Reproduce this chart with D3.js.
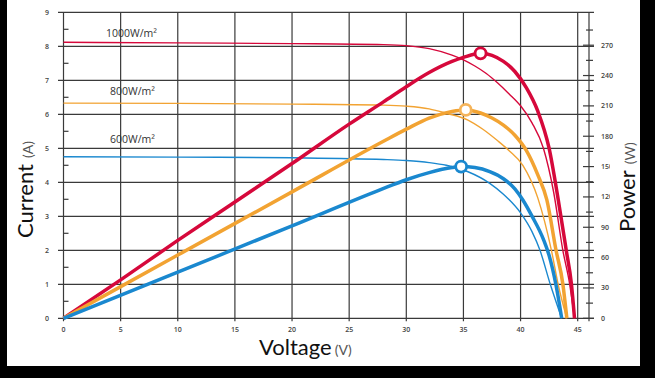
<!DOCTYPE html>
<html>
<head>
<meta charset="utf-8">
<script src="https://cdn.jsdelivr.net/npm/d3@7"></script>
<style>
  html, body { margin: 0; padding: 0; background: #000; }
  svg { display: block; }
</style>
</head>
<body>
<div id="chart"></div>
<script>
// Tick values
const voltTicks = [0, 5, 10, 15, 20, 25, 30, 35, 40, 45];
const currentTicks = [0, 1, 2, 3, 4, 5, 6, 7, 8, 9];
const powerTicks = [0, 30, 60, 90, 120, 150, 180, 210, 240, 270];

// Irradiance labels
const irradianceLabels = ["1000W/m²", "800W/m²", "600W/m²"];

// I-V curves [voltage, current]
const iv1000 = [[0, 8.12], [10, 8.1], [20, 8.08], [28, 8.05], [30, 8.02], [32, 7.93], [34, 7.74], [35, 7.6],
  [36, 7.42], [37, 7.2], [38, 6.92], [39, 6.6], [40, 6.25], [41, 5.75], [42, 5.0], [42.9, 3.7],
  [43.7, 2.0], [44.3, 1.0], [44.72, 0]];
const iv800 = [[0, 6.33], [10, 6.32], [20, 6.3], [28, 6.27], [30, 6.24], [32, 6.16], [33.5, 6.03], [35.4, 5.83],
  [36.7, 5.56], [38, 5.22], [39, 4.93], [40.2, 4.5], [41.5, 3.55], [42.7, 2.0], [43.3, 0.98], [44.05, 0]];
const iv600 = [[0, 4.75], [10, 4.74], [20, 4.72], [28, 4.67], [30, 4.64], [32, 4.58], [33.5, 4.5], [35.4, 4.31],
  [37.3, 3.97], [38.5, 3.65], [40, 3.1], [41, 2.55], [41.7, 2.0], [42.6, 1.0], [43.6, 0]];

// P-V curves [voltage, power]
const pv1000 = [[0, 0], [5, 38], [10, 77], [15, 115], [20, 153], [25, 192], [28, 214], [30, 229], [32, 243],
  [34, 254], [35, 258], [36.5, 262], [37.5, 260], [38.5, 254], [39.5, 244], [40.5, 228], [41.5, 205],
  [42.5, 168], [43.3, 117], [44, 67], [44.45, 34], [44.72, 0]];
const pv800 = [[0, 0], [10, 62.5], [20, 125], [28, 175], [30, 187], [32, 198], [34, 204.5], [35.2, 206],
  [36.5, 203], [37.5, 198], [38.5, 191], [39.5, 181], [40.5, 166], [41.5, 142], [42.3, 117], [43.1, 67.5],
  [43.7, 34], [44.05, 0]];
const pv600 = [[0, 0], [10, 45.7], [20, 91.4], [27.7, 127], [30, 137], [32, 144], [34, 149], [34.8, 150],
  [36, 149], [37.3, 145], [38.5, 138], [39.5, 128], [40.2, 117], [41, 101], [42, 78], [42.5, 62],
  [43.1, 33], [43.6, 0]];

// Maximum power points [voltage, power]
const mpp = [[36.5, 262], [35.2, 206], [34.8, 150]];

const colors = ["#d6083b", "#f2a332", "#1a88cf"];

const width = 655, height = 378;

const svg = d3.select("#chart").append("svg")
  .attr("width", width)
  .attr("height", height);

// white panel on black background
svg.append("rect").attr("x", 7).attr("y", 0).attr("width", 633).attr("height", 366).attr("fill", "#fff");

// Scales
const x = d3.scaleLinear().domain([0, 45]).range([63.5, 577.7]);
const yI = d3.scaleLinear().domain([0, 9]).range([318.3, 12.3]);
const yP = d3.scaleLinear().domain([0, 270]).range([318.3, 45.2]);

const gridColor = "#3a3a3a";
const tickFont = "'Open Sans', sans-serif";

// Horizontal grid lines
svg.append("g").selectAll("line")
  .data(currentTicks)
  .join("line")
  .attr("x1", 58).attr("x2", 594)
  .attr("y1", d => yI(d)).attr("y2", d => yI(d))
  .attr("stroke", gridColor).attr("stroke-width", 1.2);

// Vertical grid lines
svg.append("g").selectAll("line")
  .data(voltTicks)
  .join("line")
  .attr("x1", d => x(d)).attr("x2", d => x(d))
  .attr("y1", yI(9)).attr("y2", yI(0) + 3)
  .attr("stroke", gridColor).attr("stroke-width", 1.2);

// Right power axis line
svg.append("line")
  .attr("x1", 589).attr("x2", 589)
  .attr("y1", yI(9)).attr("y2", yI(0) + 3)
  .attr("stroke", gridColor).attr("stroke-width", 1.2);

// Left minor ticks (half amps)
svg.append("g").selectAll("line")
  .data(currentTicks.slice(0, -1))
  .join("line")
  .attr("x1", x(0)).attr("x2", x(0) + 5)
  .attr("y1", d => yI(d + 0.5)).attr("y2", d => yI(d + 0.5))
  .attr("stroke", gridColor).attr("stroke-width", 1.2);

// Right ticks, major and minor
svg.append("g").selectAll("line")
  .data(powerTicks)
  .join("line")
  .attr("x1", 583).attr("x2", 594)
  .attr("y1", d => yP(d)).attr("y2", d => yP(d))
  .attr("stroke", gridColor).attr("stroke-width", 1.2);
svg.append("g").selectAll("line")
  .data(powerTicks)
  .join("line")
  .attr("x1", 586).attr("x2", 593)
  .attr("y1", d => yP(d + 15)).attr("y2", d => yP(d + 15))
  .attr("stroke", gridColor).attr("stroke-width", 1.2);

// Tick labels
svg.append("g").selectAll("text")
  .data(voltTicks)
  .join("text")
  .attr("x", d => x(d)).attr("y", 332)
  .attr("text-anchor", "middle")
  .style("font", `600 7px ${tickFont}`)
  .attr("fill", "#444")
  .text(d => d);

svg.append("g").selectAll("text")
  .data(currentTicks)
  .join("text")
  .attr("x", 47).attr("y", d => yI(d) + 2.5)
  .attr("text-anchor", "middle")
  .style("font", `600 7px ${tickFont}`)
  .attr("fill", "#444")
  .text(d => d);

svg.append("g").selectAll("text")
  .data(powerTicks)
  .join("text")
  .attr("x", 601).attr("y", d => yP(d) + 2.5)
  .style("font", `600 7px ${tickFont}`)
  .attr("fill", "#444")
  .text(d => d);

// Curves
const ivLine = d3.line().x(d => x(d[0])).y(d => yI(d[1])).curve(d3.curveMonotoneX);
const pvLine = d3.line().x(d => x(d[0])).y(d => yP(d[1])).curve(d3.curveMonotoneX);

[iv1000, iv800, iv600].forEach((data, i) => {
  svg.append("path")
    .attr("d", ivLine(data))
    .attr("fill", "none")
    .attr("stroke", colors[i])
    .attr("stroke-width", 1.4);
});

[pv1000, pv800, pv600].forEach((data, i) => {
  svg.append("path")
    .attr("d", pvLine(data))
    .attr("fill", "none")
    .attr("stroke", colors[i])
    .attr("stroke-width", 3.5);
});

// Maximum power point markers
svg.append("g").selectAll("circle")
  .data(mpp)
  .join("circle")
  .attr("cx", d => x(d[0]))
  .attr("cy", d => yP(d[1]))
  .attr("r", 5.5)
  .attr("fill", "#fff")
  .attr("stroke", (d, i) => i === 1 ? "#f5b45a" : colors[i])
  .attr("stroke-width", 2.8);

// Irradiance labels
const labelPos = [[106, 37], [110, 95], [110, 143]];
svg.append("g").selectAll("text")
  .data(irradianceLabels)
  .join("text")
  .attr("x", (d, i) => labelPos[i][0])
  .attr("y", (d, i) => labelPos[i][1])
  .style("font", `10.5px ${tickFont}`)
  .attr("fill", "#333")
  .text(d => d);

// Axis titles
const titleFont = "Lato, 'Open Sans', sans-serif";

svg.append("text")
  .attr("x", 259).attr("y", 355)
  .style("font", `22px ${titleFont}`)
  .attr("fill", "#111")
  .text("Voltage")
  .append("tspan")
  .attr("dx", 3)
  .style("font-size", "14px")
  .attr("fill", "#555")
  .text("(V)");

svg.append("text")
  .attr("transform", "translate(33,238) rotate(-90)")
  .style("font", `22px ${titleFont}`)
  .attr("fill", "#111")
  .text("Current")
  .append("tspan")
  .attr("dx", 6)
  .style("font-size", "14px")
  .attr("fill", "#555")
  .text("(A)");

// white box behind the Power title covers part of the right labels
svg.append("rect").attr("x", 610).attr("y", 150).attr("width", 30).attr("height", 90).attr("fill", "#fff");

svg.append("text")
  .attr("transform", "translate(635,232) rotate(-90)")
  .style("font", `22px ${titleFont}`)
  .attr("fill", "#111")
  .text("Power")
  .append("tspan")
  .attr("dx", 6)
  .style("font-size", "14px")
  .attr("fill", "#555")
  .text("(W)");
</script>
</body>
</html>
